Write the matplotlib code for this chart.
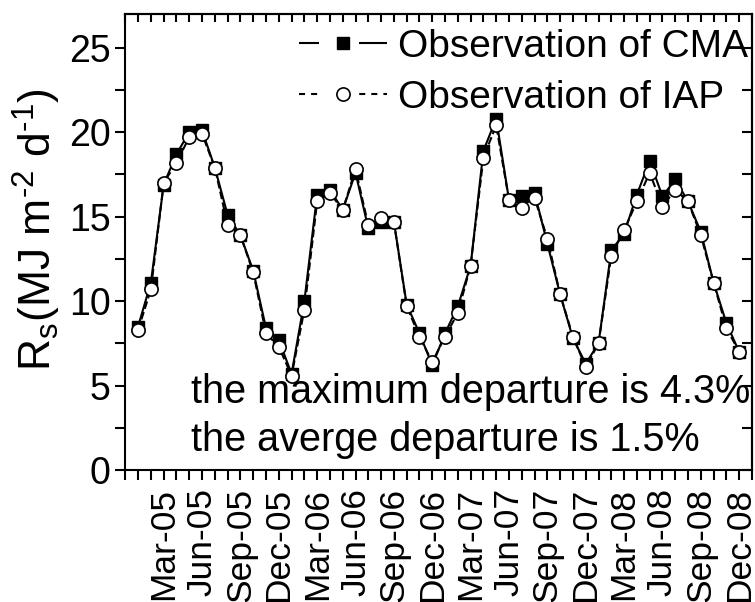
import matplotlib
matplotlib.use('Agg')
import matplotlib.pyplot as plt
from matplotlib.lines import Line2D
import numpy as np

plt.rcParams['font.family'] = ['Liberation Sans', 'DejaVu Sans']
plt.rcParams['mathtext.fontset'] = 'custom'
plt.rcParams['mathtext.rm'] = 'Liberation Sans'
plt.rcParams['mathtext.it'] = 'Liberation Sans'

# monthly values Jan-05 .. Dec-08
cma = [8.5, 11.1, 16.9, 18.7, 20.0, 20.1, 17.9, 15.1, 13.9, 11.8, 8.4, 7.7,
       5.7, 10.0, 16.3, 16.6, 15.4, 17.6, 14.3, 14.7, 14.7, 9.8, 8.1, 6.2,
       8.1, 9.7, 12.1, 18.9, 20.8, 16.0, 16.2, 16.4, 13.4, 10.4, 7.8, 6.3,
       7.5, 13.0, 14.0, 16.3, 18.3, 16.2, 17.2, 15.9, 14.1, 11.1, 8.7, 7.0]
iap = [8.3, 10.7, 17.0, 18.2, 19.7, 19.9, 17.9, 14.5, 13.9, 11.7, 8.1, 7.3,
       5.6, 9.5, 15.9, 16.4, 15.4, 17.8, 14.5, 14.9, 14.7, 9.7, 7.9, 6.4,
       7.9, 9.3, 12.1, 18.5, 20.4, 16.0, 15.5, 16.1, 13.7, 10.4, 7.9, 6.1,
       7.5, 12.7, 14.2, 15.9, 17.6, 15.6, 16.6, 15.9, 13.9, 11.1, 8.4, 7.0]
months = ['Jan', 'Feb', 'Mar', 'Apr', 'May', 'Jun', 'Jul', 'Aug', 'Sep', 'Oct', 'Nov', 'Dec']
years = ['05', '06', '07', '08']
labels = [m + '-' + y for y in years for m in months]

x = np.arange(len(cma))

fig = plt.figure(figsize=(7.55, 6.02), dpi=100)
ax = fig.add_axes([0.166, 0.219, 0.83, 0.758])

ax.plot(x, cma, color='k', linestyle='-', linewidth=1.5, marker='s', markersize=8.5,
        markerfacecolor='k', markeredgecolor='k')
ax.plot(x, iap, color='k', linestyle='--', linewidth=1.5, marker='o', markersize=9.5,
        markerfacecolor='white', markeredgecolor='k', markeredgewidth=1.2)

ax.set_xlim(-1, 48)
ax.set_ylim(0, 27)
ax.set_yticks(np.arange(0, 26, 5))
ax.set_yticks(np.arange(0, 27, 2.5), minor=True)
major = np.arange(2, 48, 3)
ax.set_xticks(major)
ax.set_xticklabels([labels[i] for i in major], rotation=90, fontsize=25.5)
ax.set_xticks(np.arange(-1, 49), minor=True)
ax.tick_params(axis='x', which='both', direction='out', length=7, width=1.5, pad=6)
ax.tick_params(axis='y', which='both', direction='out', length=7.5, width=1.5, labelsize=27, pad=3)

# mirrored ticks on top and right, pointing inward
top = ax.secondary_xaxis('top')
top.set_xticks(np.arange(-1, 49))
top.tick_params(direction='in', length=6, width=1.5, labeltop=False)
top.spines['top'].set_linewidth(1.5)
right = ax.secondary_yaxis('right')
right.set_yticks(np.arange(0, 27, 2.5))
right.tick_params(direction='in', length=7, width=1.5, labelright=False)
right.spines['right'].set_linewidth(1.5)

for s in ax.spines.values():
    s.set_linewidth(1.5)

ax.set_ylabel('R$_\\mathregular{s}$(MJ m$^\\mathregular{\u20102}$ d$^\\mathregular{\u20101}$)', fontsize=32)
ax.yaxis.set_label_coords(-0.1, 0.526)

h_cma = Line2D([], [], color='k', linewidth=1.5, linestyle=(0, (9.6, 19.2, 14.4, 50)),
               marker='s', markersize=8.5, markerfacecolor='k', markeredgecolor='k')
h_iap = Line2D([], [], color='k', linewidth=1.5,
               linestyle=(0, (2.9, 2.9, 2.9, 20.2, 2.9, 2.9, 2.9, 2.9, 2.9, 50)),
               marker='o', markersize=9.5, markerfacecolor='white', markeredgecolor='k',
               markeredgewidth=1.2)
ax.legend([h_cma, h_iap], ['Observation of CMA', 'Observation of IAP'],
          loc='upper right', frameon=False, fontsize=28, handlelength=2.26,
          handletextpad=0.28, borderaxespad=0.0, borderpad=0.0, labelspacing=0.38,
          numpoints=1, bbox_to_anchor=(0.993, 0.967))

ax.text(0.104, 0.171, 'the maximum departure is 4.3%', transform=ax.transAxes,
        fontsize=28.5, va='center', ha='left')
ax.text(0.104, 0.066, 'the averge departure is 1.5%', transform=ax.transAxes,
        fontsize=28.5, va='center', ha='left')

fig.savefig('out.png', dpi=100)
